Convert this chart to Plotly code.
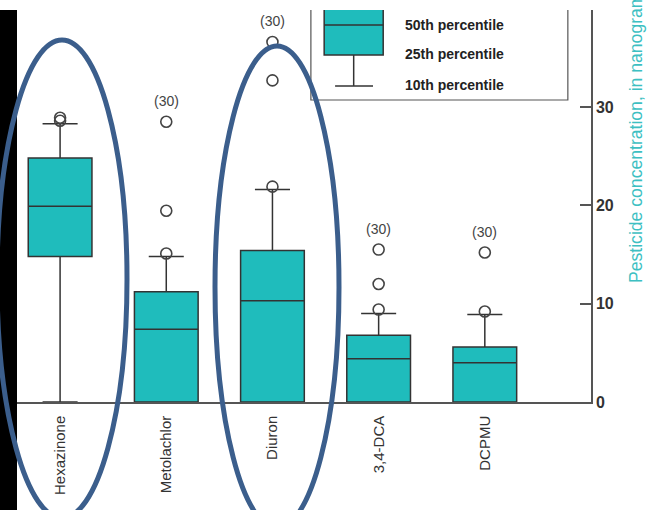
import plotly.graph_objects as go

# Pesticide concentrations (ng/L): percentile summaries per compound
categories = ["Hexazinone", "Metolachlor", "Diuron", "3,4-DCA", "DCPMU"]
p10 = [0.0, 0.0, 0.0, 0.0, 0.0]
p25 = [14.8, 0.0, 0.0, 0.0, 0.0]
p50 = [19.9, 7.4, 10.3, 4.4, 4.0]
p75 = [24.8, 11.2, 15.4, 6.8, 5.6]
p90 = [28.3, 14.8, 21.6, 9.0, 8.9]
outliers = [
    [28.6, 28.9],
    [15.1, 19.45, 28.5],
    [21.9, 32.7, 36.6],
    [9.4, 12.0, 15.5],
    [9.2, 15.2],
]
sample_counts = [None, 30, 30, 30, 30]
y_ticks = [0, 10, 20, 30]

TEAL = "#1fbcbc"
INK = "#333333"
AXIS = "#555555"
RING = "#3b5e8c"

W, H = 648, 510
ML, MR, MT, MB = 7, 57, 10, 108
PW, PH = W - ML - MR, H - MT - MB


def px(xp):
    return (xp - ML) / PW


def py(yp):
    return (H - MB - yp) / PH


fig = go.Figure()

fig.add_trace(go.Box(
    x=categories, q1=p25, median=p50, q3=p75,
    lowerfence=p10, upperfence=p90,
    boxpoints=False, width=0.6, whiskerwidth=0.55,
    fillcolor=TEAL, line=dict(color=INK, width=1.5),
    hoverinfo="skip", showlegend=False,
))

ox, oy = [], []
for cat, vals in zip(categories, outliers):
    ox += [cat] * len(vals)
    oy += vals
fig.add_trace(go.Scatter(
    x=ox, y=oy, mode="markers", showlegend=False, cliponaxis=False,
    marker=dict(symbol="circle-open", size=11, color="#444444",
                line=dict(width=1.6)),
))

annotations = []
for cat, vals, n in zip(categories, outliers, sample_counts):
    if n is None:
        continue
    annotations.append(dict(
        x=cat, y=max(vals), yshift=21, xref="x", yref="y",
        text=f"({n})", showarrow=False,
        font=dict(family="Liberation Sans, Arial", size=14, color="#444444"),
    ))

# key box in the upper right
legend_text = [("50th percentile", 38.34), ("25th percentile", 35.39), ("10th percentile", 32.24)]
for txt, yv in legend_text:
    annotations.append(dict(
        x=3.23, y=yv, xref="x", yref="y", xanchor="left", yanchor="middle",
        text=txt, showarrow=False,
        font=dict(family="Liberation Sans, Arial", size=14, color="#222222", weight="bold"),
    ))

annotations.append(dict(
    x=px(636), y=py(285), xref="paper", yref="paper",
    xanchor="center", yanchor="bottom", textangle=-90,
    text="Pesticide concentration, in nanograms per liter", showarrow=False,
    font=dict(family="Liberation Sans, Arial", size=17.6, color="#3dbfc2"),
))

shapes = [
    # dark strip along the left edge
    dict(type="rect", xref="paper", yref="paper", x0=px(-5), x1=px(17), y0=py(520), y1=py(10),
         fillcolor="black", line=dict(width=0), layer="above"),
    # key frame
    dict(type="rect", xref="x", yref="y", x0=2.362, x1=4.782, y0=30.71, y1=45,
         line=dict(color=AXIS, width=1.2), fillcolor="rgba(0,0,0,0)", layer="above"),
    dict(type="rect", xref="x", yref="y", x0=2.487, x1=3.043, y0=35.29, y1=45,
         line=dict(color=INK, width=1.5), fillcolor=TEAL, layer="above"),
    dict(type="line", xref="x", yref="y", x0=2.487, x1=3.043, y0=38.34, y1=38.34,
         line=dict(color=INK, width=1.5), layer="above"),
    dict(type="line", xref="x", yref="y", x0=2.765, x1=2.765, y0=35.29, y1=32.14,
         line=dict(color=INK, width=1.5), layer="above"),
    dict(type="line", xref="x", yref="y", x0=2.59, x1=2.947, y0=32.14, y1=32.14,
         line=dict(color=INK, width=1.5), layer="above"),
    # highlight rings
    dict(type="circle", xref="paper", yref="paper", x0=px(-3), x1=px(127), y0=py(518), y1=py(40),
         line=dict(color=RING, width=5), layer="above"),
    dict(type="circle", xref="paper", yref="paper", x0=px(215), x1=px(339), y0=py(528), y1=py(46),
         line=dict(color=RING, width=5), layer="above"),
]

fig.update_layout(
    width=W, height=H,
    margin=dict(l=ML, r=MR, t=MT, b=MB, pad=0),
    paper_bgcolor="white", plot_bgcolor="white",
    showlegend=False,
    annotations=annotations, shapes=shapes,
    xaxis=dict(
        type="category", range=[-0.5, 5.0], tickangle=-90,
        showline=True, linecolor=AXIS, linewidth=1.5, mirror=False,
        showgrid=False, zeroline=False, ticks="", automargin=False,
        ticklabelstandoff=6,
        tickfont=dict(family="Liberation Sans, Arial", size=15, color=INK),
    ),
    yaxis=dict(
        side="right", range=[0, 39.86], tickvals=y_ticks,
        showline=True, linecolor=AXIS, linewidth=1.5,
        ticks="inside", ticklen=11, tickwidth=1.5, tickcolor=AXIS,
        showgrid=False, zeroline=False, automargin=False,
        tickfont=dict(family="Liberation Sans, Arial", size=16, color=INK, weight="bold"),
    ),
)

fig.write_html("out.html")
